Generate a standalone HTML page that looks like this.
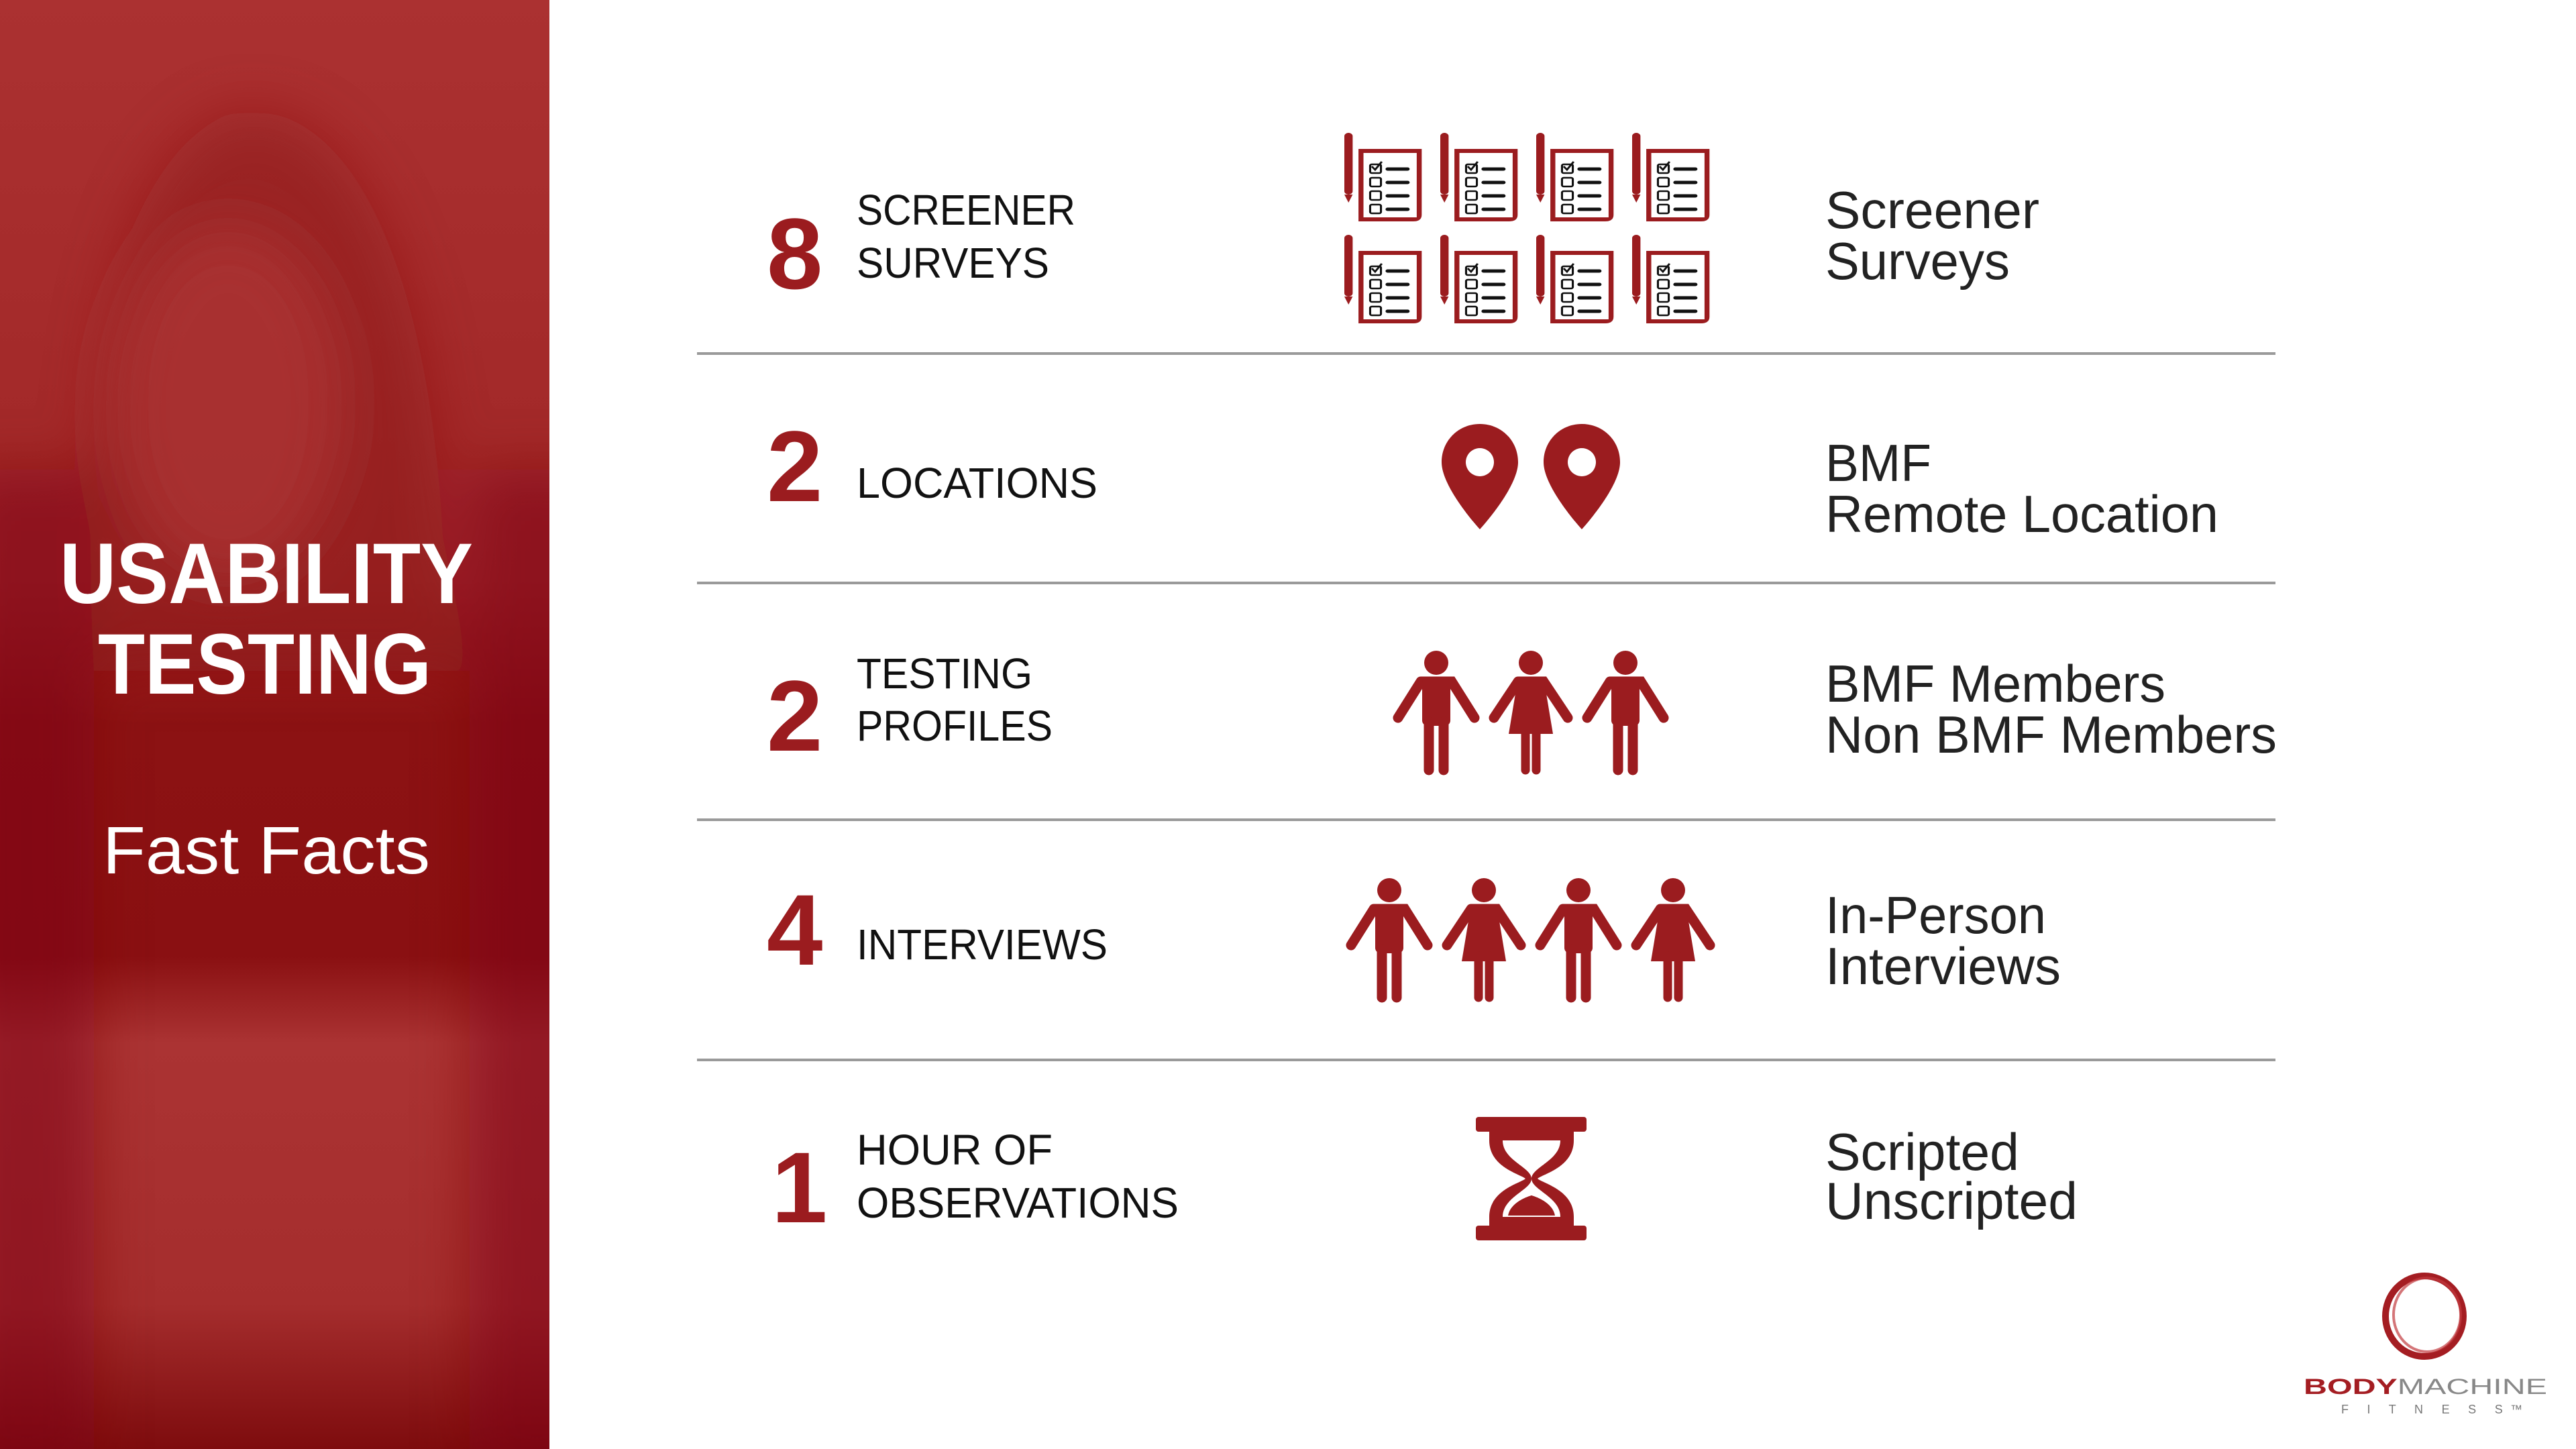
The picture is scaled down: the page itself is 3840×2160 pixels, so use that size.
<!DOCTYPE html>
<html><head><meta charset="utf-8"><style>
html,body{margin:0;padding:0;width:3840px;height:2160px;overflow:hidden;background:#fff}
svg{display:block}
</style></head><body>
<svg width="3840" height="2160" viewBox="0 0 3840 2160" xmlns="http://www.w3.org/2000/svg">
<defs>
<linearGradient id="lg" x1="0" y1="0" x2="0" y2="1">
<stop offset="0" stop-color="#ab3131"/><stop offset="0.4" stop-color="#a02626"/>
<stop offset="0.5" stop-color="#8c1213"/><stop offset="0.66" stop-color="#8a1012"/>
<stop offset="0.72" stop-color="#ab3333"/><stop offset="0.9" stop-color="#a52d2d"/>
<stop offset="1" stop-color="#7e0c0e"/>
</linearGradient>
<clipPath id="cp"><rect x="0" y="0" width="819" height="2160"/></clipPath>
<filter id="bl"><feGaussianBlur stdDeviation="40"/></filter>
<g id="doc0">
<rect x="0" y="0" width="10" height="92" rx="5" fill="#9b1c1f"/>
<polygon points="0,92 10,92 5,104" fill="#9b1c1f"/>
<path d="M17 24 H93 V122 Q93 132 83 132 H17 Z" fill="#9b1c1f"/>
<rect x="23" y="30" width="64" height="96" fill="#fff"/>
<g fill="none" stroke="#111" stroke-width="2.5">
<rect x="31" y="47" width="13" height="13" rx="2"/><rect x="31" y="67" width="13" height="13" rx="2"/>
<rect x="31" y="87" width="13" height="13" rx="2"/><rect x="31" y="107" width="13" height="13" rx="2"/>
<path d="M33 50 l4 5 l8 -12"/>
</g>
<g stroke="#111" stroke-width="5" stroke-linecap="round">
<line x1="52" y1="54" x2="76" y2="54"/><line x1="52" y1="74" x2="76" y2="74"/>
<line x1="52" y1="94" x2="76" y2="94"/><line x1="52" y1="114" x2="76" y2="114"/>
</g>
</g>
<g id="doc"><use href="#doc0" transform="scale(1.24,1)"/></g>
<g id="man" fill="#9b1c1f" stroke="#9b1c1f" stroke-linecap="round">
<circle cx="65" cy="22" r="18" stroke="none"/>
<path d="M42 50 H88 L122 104 M42 50 L8 104" fill="none" stroke-width="15"/>
<rect x="44" y="44" width="42" height="72" rx="8" stroke="none"/>
<line x1="54" y1="110" x2="54" y2="182" stroke-width="15"/>
<line x1="76" y1="110" x2="76" y2="182" stroke-width="15"/>
</g>
<g id="woman" fill="#9b1c1f" stroke="#9b1c1f" stroke-linecap="round">
<circle cx="65" cy="22" r="18" stroke="none"/>
<path d="M46 50 H84 L120 104 M46 50 L10 104" fill="none" stroke-width="15"/>
<path d="M46 44 H84 L98 128 H32 Z" stroke="none"/>
<line x1="57" y1="120" x2="57" y2="182" stroke-width="13"/>
<line x1="73" y1="120" x2="73" y2="182" stroke-width="13"/>
</g>
<path id="pin" d="M57 0 C25 0 0 25 0 57 C0 95 57 157 57 157 C57 157 114 95 114 57 C114 25 89 0 57 0 Z M57 36 A21 21 0 1 0 57.01 36 Z" fill="#9b1c1f" fill-rule="evenodd"/>
</defs>

<!-- left panel -->
<rect x="0" y="0" width="819" height="2160" fill="url(#lg)"/>
<g clip-path="url(#cp)">
<g filter="url(#bl)">
<path d="M140 1000 C120 600 160 250 340 170 C520 130 640 400 660 800 L700 1000 Z" fill="#8a1414" opacity="0.45"/>
<ellipse cx="340" cy="600" rx="170" ry="260" fill="#b84040" opacity="0.5"/>
<rect x="-60" y="700" width="200" height="1500" fill="#7e0c0e" opacity="0.5"/>
<rect x="700" y="700" width="200" height="1500" fill="#7e0c0e" opacity="0.5"/>
</g>
</g>
<g font-family="Liberation Sans, sans-serif" fill="#fff" text-anchor="start">
<text x="89" y="899" font-size="128" font-weight="bold" textLength="616" lengthAdjust="spacingAndGlyphs">USABILITY</text>
<text x="146" y="1034" font-size="128" font-weight="bold" textLength="497" lengthAdjust="spacingAndGlyphs">TESTING</text>
<text x="153" y="1302" font-size="100" textLength="488" lengthAdjust="spacingAndGlyphs">Fast Facts</text>
</g>

<!-- dividers -->
<g stroke="#9a9a9a" stroke-width="4">
<line x1="1039" y1="527" x2="3392" y2="527"/>
<line x1="1039" y1="869" x2="3392" y2="869"/>
<line x1="1039" y1="1222" x2="3392" y2="1222"/>
<line x1="1039" y1="1580" x2="3392" y2="1580"/>
</g>

<!-- numbers -->
<g font-family="Liberation Sans, sans-serif" font-weight="bold" fill="#9b1c1f" font-size="150">
<text x="1143" y="430">8</text>
<text x="1143" y="747">2</text>
<text x="1143" y="1119">2</text>
<text x="1143" y="1438">4</text>
<text x="1150" y="1822">1</text>
</g>

<!-- labels -->
<g font-family="Liberation Sans, sans-serif" fill="#111" font-size="64">
<text x="1277" y="335" textLength="326" lengthAdjust="spacingAndGlyphs">SCREENER</text>
<text x="1277" y="414" textLength="287" lengthAdjust="spacingAndGlyphs">SURVEYS</text>
<text x="1277" y="742" textLength="359" lengthAdjust="spacingAndGlyphs">LOCATIONS</text>
<text x="1277" y="1026" textLength="262" lengthAdjust="spacingAndGlyphs">TESTING</text>
<text x="1277" y="1104" textLength="292" lengthAdjust="spacingAndGlyphs">PROFILES</text>
<text x="1277" y="1430" textLength="374" lengthAdjust="spacingAndGlyphs">INTERVIEWS</text>
<text x="1277" y="1736" textLength="292" lengthAdjust="spacingAndGlyphs">HOUR OF</text>
<text x="1277" y="1815" textLength="480" lengthAdjust="spacingAndGlyphs">OBSERVATIONS</text>
</g>

<!-- right text -->
<g font-family="Liberation Sans, sans-serif" fill="#222" font-size="78">
<text x="2721" y="340" textLength="319" lengthAdjust="spacingAndGlyphs">Screener</text>
<text x="2721" y="416" textLength="275" lengthAdjust="spacingAndGlyphs">Surveys</text>
<text x="2721" y="717" textLength="158" lengthAdjust="spacingAndGlyphs">BMF</text>
<text x="2721" y="793" textLength="586" lengthAdjust="spacingAndGlyphs">Remote Location</text>
<text x="2721" y="1046" textLength="507" lengthAdjust="spacingAndGlyphs">BMF Members</text>
<text x="2721" y="1122" textLength="673" lengthAdjust="spacingAndGlyphs">Non BMF Members</text>
<text x="2721" y="1391" textLength="329" lengthAdjust="spacingAndGlyphs">In-Person</text>
<text x="2721" y="1467" textLength="351" lengthAdjust="spacingAndGlyphs">Interviews</text>
<text x="2721" y="1744" textLength="289" lengthAdjust="spacingAndGlyphs">Scripted</text>
<text x="2721" y="1817" textLength="376" lengthAdjust="spacingAndGlyphs">Unscripted</text>
</g>

<!-- survey icons -->
<use href="#doc" x="2004" y="198"/><use href="#doc" x="2147" y="198"/>
<use href="#doc" x="2290" y="198"/><use href="#doc" x="2433" y="198"/>
<use href="#doc" x="2004" y="350"/><use href="#doc" x="2147" y="350"/>
<use href="#doc" x="2290" y="350"/><use href="#doc" x="2433" y="350"/>

<!-- pins -->
<use href="#pin" x="2149" y="632"/>
<use href="#pin" x="2301" y="632"/>

<!-- people row 3 -->
<use href="#man" x="2076" y="966"/>
<use href="#woman" x="2217" y="966"/>
<use href="#man" x="2358" y="966"/>
<!-- people row 4 -->
<use href="#man" x="2006" y="1305"/>
<use href="#woman" x="2147" y="1305"/>
<use href="#man" x="2288" y="1305"/>
<use href="#woman" x="2429" y="1305"/>

<!-- hourglass -->
<g fill="#9b1c1f">
<rect x="2200" y="1665" width="165" height="22" rx="4"/>
<rect x="2200" y="1827" width="165" height="22" rx="4"/>
<path d="M2220 1687 H2346 V1700 C2346 1740 2300 1750 2292 1757 C2300 1764 2346 1774 2346 1814 V1827 H2220 V1814 C2220 1774 2266 1764 2274 1757 C2266 1750 2220 1740 2220 1700 Z M2240 1700 C2240 1730 2283 1740 2283 1757 C2283 1774 2240 1784 2240 1814 H2326 C2326 1784 2283 1774 2283 1757 C2283 1740 2326 1730 2326 1700 Z" fill-rule="evenodd"/>
<path d="M2248 1812 C2252 1790 2283 1782 2283 1782 C2283 1782 2314 1790 2318 1812 Z"/>
</g>

<!-- logo -->
<ellipse cx="3614" cy="1962" rx="58" ry="60" fill="none" stroke="#a41d22" stroke-width="10"/>
<ellipse cx="3618" cy="1960" rx="50" ry="55" fill="none" stroke="#c23a3e" stroke-width="4" opacity="0.7"/>
<text x="3434" y="2078" font-family="Liberation Sans, sans-serif" font-size="32" textLength="363" lengthAdjust="spacingAndGlyphs"><tspan font-weight="bold" fill="#a41d22">BODY</tspan><tspan fill="#888">MACHINE</tspan></text>
<text x="3490" y="2107" font-family="Liberation Sans, sans-serif" font-size="18" fill="#777" textLength="270" lengthAdjust="spacing">F I T N E S S™</text>
</svg>
</body></html>
